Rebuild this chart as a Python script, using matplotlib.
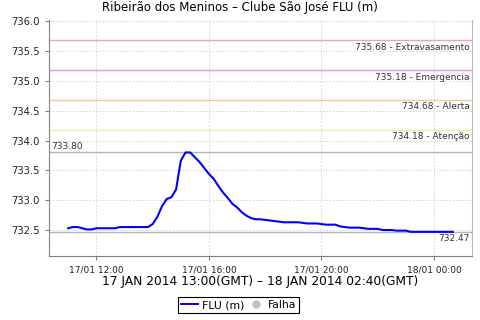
import matplotlib
matplotlib.use("Agg")
import matplotlib.pyplot as plt
import matplotlib.dates as mdates
from matplotlib.lines import Line2D
import pandas as pd

# 10-minute readings, local time (GMT-2), 17/01 11:00 -> 18/01 00:40
levels = [
    732.53, 732.55, 732.55, 732.53, 732.51, 732.51, 732.53, 732.53, 732.53, 732.53,
    732.53, 732.55, 732.55, 732.55, 732.55, 732.55, 732.55, 732.55, 732.60, 732.72,
    732.90, 733.02, 733.05, 733.18, 733.66, 733.80, 733.80, 733.72, 733.64, 733.54,
    733.44, 733.36, 733.24, 733.13, 733.04, 732.94, 732.88, 732.80, 732.74, 732.70,
    732.68, 732.68, 732.67, 732.66, 732.65, 732.64, 732.63, 732.63, 732.63, 732.63,
    732.62, 732.61, 732.61, 732.61, 732.60, 732.59, 732.59, 732.59, 732.56, 732.55,
    732.54, 732.54, 732.54, 732.53, 732.52, 732.52, 732.52, 732.50, 732.50, 732.50,
    732.49, 732.49, 732.49, 732.47, 732.47, 732.47, 732.47, 732.47, 732.47, 732.47,
    732.47, 732.47, 732.47,
]
times = pd.date_range("2014-01-17 11:00", periods=len(levels), freq="10min")

thresholds = [735.68, 735.18, 734.68, 734.18]
threshold_names = ["Extravasamento", "Emergencia", "Alerta", "Atenção"]
threshold_colors = ["#f4a4a4", "#ee90ee", "#f5c896", "#f7eaa8"]

title = "Ribeirão dos Meninos – Clube São José FLU (m)"
subtitle = "17 JAN 2014 13:00(GMT) – 18 JAN 2014 02:40(GMT)"

plt.rcParams["font.family"] = ["DejaVu Sans"]

fig = plt.figure(figsize=(4.8, 3.2), dpi=100)
ax_left, ax_w = 49 / 480, 423 / 480
ax = fig.add_axes([ax_left, 64 / 320, ax_w, 236 / 320])

# max / min reference lines
vmax, vmin = max(levels), min(levels)
ax.axhline(vmax, color="#b4b4b4", lw=1.0, zorder=1)
ax.axhline(vmin, color="#b4b4b4", lw=1.0, zorder=1)
ax.text(0.006, vmax + 0.03, f"{vmax:.2f}", transform=ax.get_yaxis_transform(),
        ha="left", va="bottom", fontsize=6.5, color="#333333")
ax.text(0.994, vmin - 0.04, f"{vmin:.2f}", transform=ax.get_yaxis_transform(),
        ha="right", va="top", fontsize=6.5, color="#333333")

for val, name, col in zip(thresholds, threshold_names, threshold_colors):
    ax.axhline(val, color=col, lw=1.0, zorder=1)
    ax.text(0.994, val - 0.04, f"{val:.2f} - {name}", transform=ax.get_yaxis_transform(),
            ha="right", va="top", fontsize=6.5, color="#333333")

ax.plot(times, levels, color="#0000ff", lw=1.5, zorder=3)

span = times[-1] - times[0]
ax.set_xlim(times[0] - span * 0.05, times[-1] + span * 0.05)
ax.set_ylim(732.065, 736.02)
ax.set_yticks([732.5, 733.0, 733.5, 734.0, 734.5, 735.0, 735.5, 736.0])
ax.yaxis.set_major_formatter(matplotlib.ticker.FormatStrFormatter("%.1f"))
ax.xaxis.set_major_locator(mdates.HourLocator(byhour=[0, 4, 8, 12, 16, 20]))
ax.xaxis.set_major_formatter(mdates.DateFormatter("%d/%m %H:%M"))

ax.grid(True, color="#d0d0d0", lw=0.6, linestyle=(0, (2, 2)))
ax.set_axisbelow(True)
ax.tick_params(axis="both", labelsize=7.2, colors="#808080", labelcolor="#222222",
               length=3, width=0.8)
ax.tick_params(axis="x", labelsize=6.5)
for side in ["left", "bottom"]:
    ax.spines[side].set_color("#808080")
ax.spines["right"].set_color("#b8b8b8")
ax.spines["top"].set_visible(False)

fig.text(0.5, 1 - 8 / 320, title, ha="center", va="center", fontsize=8.5)
fig.text(ax_left + ax_w / 2, 1 - 281 / 320, subtitle, ha="center", va="center",
         fontsize=8.8)

handles = [
    Line2D([], [], color="#0000ff", lw=1.4),
    Line2D([], [], color="#c0c0c0", marker="o", linestyle="none", markersize=5),
]
leg = fig.legend(handles, ["FLU (m)", "Falha"], loc="center",
                 bbox_to_anchor=(0.497, 1 - 305 / 320), ncol=2, fontsize=7.8,
                 fancybox=False, framealpha=1, edgecolor="black",
                 handlelength=1.6, handletextpad=0.3, columnspacing=0.3,
                 borderpad=0.3, borderaxespad=0)
leg.get_frame().set_linewidth(0.8)

fig.savefig("out.png", dpi=100)
